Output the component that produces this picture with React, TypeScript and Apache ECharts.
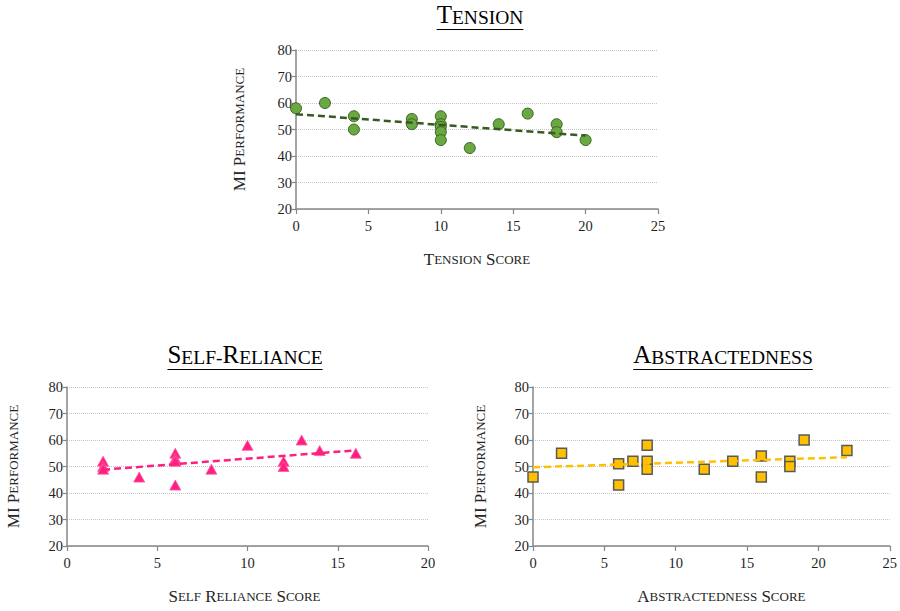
import React, { useEffect, useRef } from "react";
import * as echarts from "echarts";

// ---- data ----
const tensionX = [0, 2, 4, 4, 8, 8, 10, 10, 10, 10, 10, 12, 14, 16, 18, 18, 20];
const tensionY = [58, 60, 55, 50, 54, 52, 55, 52, 51, 49, 46, 43, 52, 56, 52, 49, 46];
const tensionTrendX = [0, 20];
const tensionTrendY = [55.8, 47.7];

const selfX = [2, 2, 2, 4, 6, 6, 6, 6, 8, 10, 12, 12, 13, 14, 16];
const selfY = [52, 50, 49, 46, 55, 53, 52, 43, 49, 58, 52, 50, 60, 56, 55];
const selfTrendX = [2, 16];
const selfTrendY = [48.8, 56.1];

const abstrX = [0, 2, 6, 6, 7, 8, 8, 8, 12, 14, 16, 16, 18, 18, 19, 22];
const abstrY = [46, 55, 51, 43, 52, 58, 52, 49, 49, 52, 54, 46, 52, 50, 60, 56];
const abstrTrendX = [0, 22];
const abstrTrendY = [49.7, 53.5];

const chartTitles = ["Tension", "Self-Reliance", "Abstractedness"];
const xNames = ["Tension Score", "Self Reliance Score", "Abstractedness Score"];
const yName = "MI Performance";
const xMaxes = [25, 20, 25];
const xIntervals = [5, 5, 5];
const yMin = 20;
const yMax = 80;
const yInterval = 10;

const FONT = "Liberation Serif";

// small caps helper: uppercase / non-letters stay big, lowercase become small capitals
function smallCaps(text: string) {
  const runs: { big: boolean; t: string }[] = [];
  for (const ch of text) {
    const isLower = ch.toLowerCase() === ch && ch.toUpperCase() !== ch;
    const big = !isLower && ch !== "-";
    const t = ch.toUpperCase();
    if (runs.length && runs[runs.length - 1].big === big) runs[runs.length - 1].t += t;
    else runs.push({ big, t });
  }
  return runs;
}
function richString(text: string) {
  return smallCaps(text)
    .map((r) => `{${r.big ? "b" : "s"}|${r.t}}`)
    .join("");
}
function measure(text: string, big: number, small: number) {
  const c = document.createElement("canvas");
  const ctx = c.getContext("2d")!;
  let w = 0;
  for (const r of smallCaps(text)) {
    ctx.font = `${r.big ? big : small}px "${FONT}"`;
    w += ctx.measureText(r.t).width;
  }
  return w;
}

const grids = [
  { left: 296, top: 50, width: 362, height: 159 },
  { left: 67, top: 387, width: 361, height: 159 },
  { left: 533, top: 387, width: 361, height: 159 },
];
const titlePos = [
  { cx: 480, by: 29 },
  { cx: 245, by: 369 },
  { cx: 723, by: 369 },
];
const yNameGaps = [48, 45, 44];
const xNamePad = [
  [0, 0, 0, 0],
  [0, 6, 0, 0],
  [0, 0, 0, 20],
];

export default function App() {
  const ref = useRef<HTMLDivElement>(null);
  useEffect(() => {
    if (!ref.current) return;
    const chart = echarts.init(ref.current, undefined, { renderer: "svg" });

    const axisRich = {
      b: { fontSize: 17, fontFamily: FONT, color: "#262626" },
      s: { fontSize: 13, fontFamily: FONT, color: "#262626" },
    };
    const tickStyle = { fontFamily: FONT, fontSize: 14.5, color: "#1f1f1f" };

    const xAxis = grids.map((_, i) => ({
      type: "value",
      gridIndex: i,
      min: 0,
      max: xMaxes[i],
      interval: xIntervals[i],
      name: richString(xNames[i]),
      nameLocation: "middle",
      nameGap: 42,
      nameTextStyle: { fontFamily: FONT, rich: axisRich, padding: xNamePad[i] },
      axisLine: { show: true, onZero: false, lineStyle: { color: "#878787", width: 1.5 } },
      axisTick: { show: true, length: 5, lineStyle: { color: "#878787", width: 1.2 } },
      axisLabel: { ...tickStyle, margin: 9 },
      splitLine: { show: false },
    }));
    const yAxis = grids.map((_, i) => ({
      type: "value",
      gridIndex: i,
      min: yMin,
      max: yMax,
      interval: yInterval,
      name: richString(yName),
      nameLocation: "middle",
      nameGap: yNameGaps[i],
      nameTextStyle: { fontFamily: FONT, rich: axisRich },
      axisLine: { show: true, lineStyle: { color: "#878787", width: 1.5 } },
      axisTick: { show: true, length: 4, lineStyle: { color: "#878787", width: 1.2 } },
      axisLabel: { ...tickStyle, margin: 4 },
      splitLine: { show: true, lineStyle: { color: "#c4c4c4", type: [1, 1], width: 1 } },
    }));

    const pts = (xs: number[], ys: number[]) => xs.map((x, i) => [x, ys[i]]);

    const series: any[] = [
      {
        type: "scatter",
        xAxisIndex: 0,
        yAxisIndex: 0,
        symbol: "circle",
        symbolSize: 11,
        itemStyle: { color: "#6aa842", borderColor: "#3c6424", borderWidth: 1, opacity: 1 },
        data: pts(tensionX, tensionY),
        z: 2,
      },
      {
        type: "line",
        xAxisIndex: 0,
        yAxisIndex: 0,
        symbol: "none",
        lineStyle: { color: "#375a21", width: 2.5, type: [7, 4] },
        data: pts(tensionTrendX, tensionTrendY),
        z: 3,
      },
      {
        type: "scatter",
        xAxisIndex: 1,
        yAxisIndex: 1,
        symbol: "triangle",
        symbolSize: [11, 10],
        itemStyle: { color: "#ff1f80", borderColor: "#ff5aa0", borderWidth: 0.8, opacity: 1 },
        data: pts(selfX, selfY),
        z: 2,
      },
      {
        type: "line",
        xAxisIndex: 1,
        yAxisIndex: 1,
        symbol: "none",
        lineStyle: { color: "#ff1f80", width: 2.5, type: [7, 4] },
        data: pts(selfTrendX, selfTrendY),
        z: 3,
      },
      {
        type: "scatter",
        xAxisIndex: 2,
        yAxisIndex: 2,
        symbol: "rect",
        symbolSize: 10,
        itemStyle: { color: "#ffc000", borderColor: "#595959", borderWidth: 1.5, opacity: 1 },
        data: pts(abstrX, abstrY),
        z: 2,
      },
      {
        type: "line",
        xAxisIndex: 2,
        yAxisIndex: 2,
        symbol: "none",
        lineStyle: { color: "#ffc000", width: 2.5, type: [7, 4] },
        data: pts(abstrTrendX, abstrTrendY),
        z: 3,
      },
    ];

    const graphic: any[] = [];
    chartTitles.forEach((t, i) => {
      const w = measure(t, 25, 19.5);
      const { cx, by } = titlePos[i];
      graphic.push({
        type: "text",
        x: cx,
        y: by - 2,
        style: {
          text: richString(t),
          align: "center",
          verticalAlign: "bottom",
          fill: "#000",
          fontFamily: FONT,
          rich: {
            b: { fontSize: 25, fontFamily: FONT, fill: "#000", verticalAlign: "bottom" },
            s: { fontSize: 19.5, fontFamily: FONT, fill: "#000", verticalAlign: "bottom" },
          },
        },
      });
      graphic.push({
        type: "line",
        shape: { x1: cx - w / 2, y1: by + 0.5, x2: cx + w / 2, y2: by + 0.5 },
        style: { stroke: "#000", lineWidth: 1.2 },
      });
    });

    chart.setOption({
      animation: false,
      backgroundColor: "#fff",
      textStyle: { fontFamily: FONT },
      grid: grids.map((g) => ({ ...g, containLabel: false })),
      xAxis,
      yAxis,
      series,
      graphic,
    });
    return () => chart.dispose();
  }, []);

  return (
    <div
      ref={ref}
      style={{ position: "fixed", left: 0, top: 0, width: 900, height: 611, background: "#fff" }}
    />
  );
}
